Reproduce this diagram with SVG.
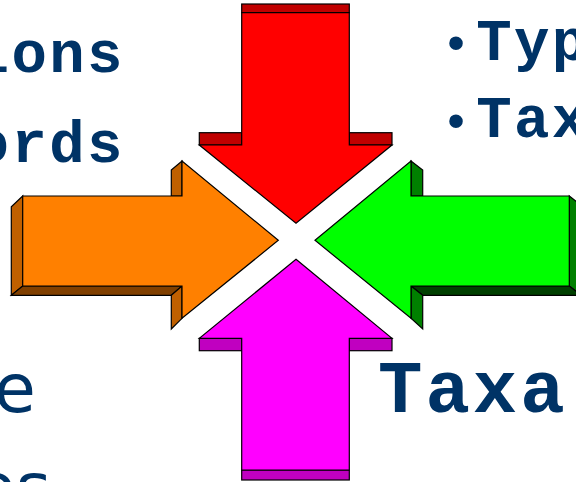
<svg xmlns="http://www.w3.org/2000/svg" width="576" height="482" viewBox="0 0 576 482">
<style>
.o{stroke:#000;stroke-width:1.2;stroke-linejoin:miter}
.mono{font-family:"Liberation Mono","Courier New",monospace;font-weight:bold;fill:#003366}
.sans{font-family:"DejaVu Sans","Verdana",sans-serif;fill:#003366}
.bul{font-family:"Liberation Sans",Arial,sans-serif;fill:#003366}
</style>
<rect width="576" height="482" fill="#fff"/>
<g id="text-left">
<text class="mono" x="-26.4" y="72" font-size="59" letter-spacing="2.4">ions</text>
<text class="mono" x="-26.4" y="162" font-size="59" letter-spacing="2.4">ords</text>
<text class="sans" x="-6" y="412" font-size="68">e</text>
<text class="sans" x="-26" y="511" font-size="68">es</text>
</g>
<g id="text-right">
<text class="bul" x="456" y="60" font-size="50" text-anchor="middle">•</text>
<text class="mono" x="476.2" y="60" font-size="59" letter-spacing="2.4">Typ</text>
<text class="bul" x="456" y="138" font-size="50" text-anchor="middle">•</text>
<text class="mono" x="476.2" y="137" font-size="59" letter-spacing="2.4">Tax</text>
<text class="mono" x="378" y="412" font-size="74" letter-spacing="3">Taxa</text>
</g>
<g id="arrow-top">
<rect class="o" x="241.7" y="4" width="107.6" height="8.7" fill="#C00000"/>
<rect class="o" x="199.3" y="132.7" width="42.4" height="12.3" fill="#C00000"/>
<rect class="o" x="349.3" y="132.7" width="42.7" height="12.3" fill="#C00000"/>
<polygon class="o" fill="#FF0000" points="241.7,12.7 349.3,12.7 349.3,145 392,145 296,223.3 199.3,145 241.7,145"/>
</g>
<g id="arrow-bottom">
<rect class="o" x="199.3" y="338.3" width="42.4" height="12.4" fill="#C000C0"/>
<rect class="o" x="349.3" y="338.3" width="42.7" height="12.4" fill="#C000C0"/>
<rect class="o" x="241.7" y="470" width="107.6" height="10" fill="#C000C0"/>
<polygon class="o" fill="#FF00FF" points="296,259.3 392,338.3 349.3,338.3 349.3,470 241.7,470 241.7,338.3 199.3,338.3"/>
</g>
<g id="arrow-left">
<polygon class="o" fill="#C06000" points="22.7,196 11.3,206.7 11.3,295.3 22.7,286"/>
<polygon class="o" fill="#804000" points="22.7,286 182,286 171.3,295.3 11.3,295.3"/>
<polygon class="o" fill="#C06000" points="182,286 182,318.3 171.3,329 171.3,295.3"/>
<polygon class="o" fill="#C06000" points="171.3,170 182,161 182,196 171.3,196"/>
<polygon class="o" fill="#FF8000" points="22.7,196 182,196 182,161 278.3,240.3 182,318.3 182,286 22.7,286"/>
</g>
<g id="arrow-right">
<polygon class="o" fill="#008000" points="569.3,196 581,205 581,295.3 569.3,286"/>
<polygon class="o" fill="#004000" points="411,286 569.3,286 581,295.3 422.7,295.3"/>
<polygon class="o" fill="#008000" points="411,161 422.7,170 422.7,196 411,196"/>
<polygon class="o" fill="#008000" points="411,286 422.7,295.3 422.7,329 411,318.3"/>
<polygon class="o" fill="#00FF00" points="315,240.3 411,161 411,196 569.3,196 569.3,286 411,286 411,318.3"/>
</g>
</svg>
